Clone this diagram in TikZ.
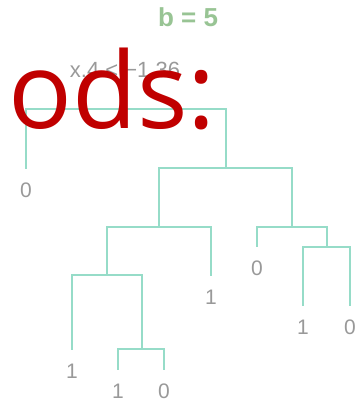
\documentclass[tikz,border=0pt]{standalone}
\usepackage{fontspec}
\setmainfont{Liberation Sans}
\newfontfamily\overlayfont{Open Sans}
\usepackage{tikz}
\usetikzlibrary{positioning}
\definecolor{treeteal}{HTML}{96DCC8}
\definecolor{labelgray}{HTML}{999999}
\definecolor{titlegreen}{HTML}{98C494}
\definecolor{overlayred}{HTML}{C00000}

\begin{document}
\begin{tikzpicture}[
    x=1pt,y=-1pt,
    branch/.style={draw=treeteal,line width=1.8pt},
    leaf/.style={anchor=north,inner xsep=1pt,inner ysep=13.5pt,
    text=labelgray,font=\fontsize{21}{21}\selectfont},
    split/.style={text=labelgray,font=\fontsize{22}{22}\selectfont},
    title/.style={text=titlegreen,font=\bfseries\fontsize{26}{26}\selectfont}
]
\useasboundingbox (0,0) rectangle (354,404);
\node[title] (ttl) at (188,17.5) {b = 5};
\node[split] (rule) at (125,69.5) {x.4 < −1.36};
% split points
\coordinate (root) at (126,109);
\coordinate (n1) at (226,168);
\coordinate (n2) at (159,227);
\coordinate (n3) at (292,227);
\coordinate (n4) at (327,247);
\coordinate (n5) at (107,275);
\coordinate (n6) at (142,349);
% leaves
\node[leaf] (l1) at (26,169) {0};
\node[leaf] (l2) at (211,276) {1};
\node[leaf] (l3) at (257,247) {0};
\node[leaf] (l4) at (303,306) {1};
\node[leaf] (l5) at (350,306) {0};
\node[leaf] (l6) at (72,350) {1};
\node[leaf] (l7) at (118,370) {1};
\node[leaf] (l8) at (164,370) {0};
% branches
\draw[branch] (root) -| (l1.north);
\draw[branch] (root) -| (n1);
\draw[branch] (n1) -| (n2);
\draw[branch] (n1) -| (n3);
\draw[branch] (n2) -| (n5);
\draw[branch] (n2) -| (l2.north);
\draw[branch] (n3) -| (l3.north);
\draw[branch] (n3) -| (n4);
\draw[branch] (n4) -| (l4.north);
\draw[branch] (n4) -| (l5.north);
\draw[branch] (n5) -| (l6.north);
\draw[branch] (n5) -| (n6);
\draw[branch] (n6) -| (l7.north);
\draw[branch] (n6) -| (l8.north);
\node[anchor=base west,inner sep=0pt,text=overlayred,
    font=\overlayfont\fontsize{106}{106}\selectfont] (ovl) at (8,128) {ods:};
\end{tikzpicture}
\end{document}
